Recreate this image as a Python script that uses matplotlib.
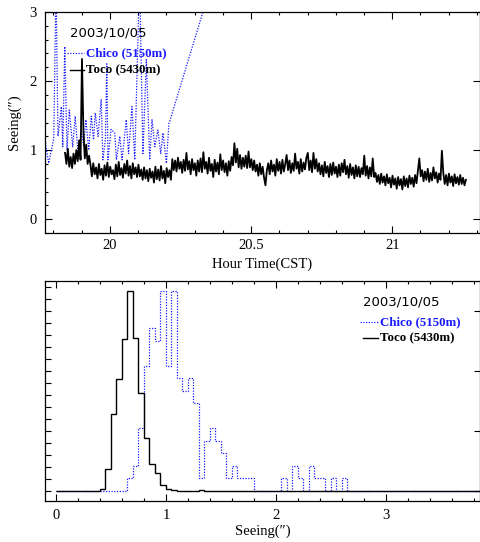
import matplotlib.pyplot as plt
import numpy as np
from matplotlib.ticker import MultipleLocator

plt.rcParams['font.family'] = ['Liberation Serif', 'DejaVu Serif']

# Toco (5430m) seeing, regular sampling from 19.841 to 21.261 h
toco_start, toco_end = 19.841, 21.261
toco_seeing = [
    0.96, 0.80, 1.02, 0.76, 0.90, 0.74,
    0.95, 0.80, 1.00, 0.84, 1.14, 0.86,
    2.32,
    1.29, 0.88, 1.08, 0.80, 0.92,
    0.79, 0.62, 0.81, 0.65, 0.75, 0.59, 0.80, 0.64, 0.73, 0.57,
    0.78, 0.63, 0.82, 0.61, 0.76, 0.65, 0.71, 0.58, 0.79, 0.62,
    0.83, 0.64, 0.74, 0.60, 0.80, 0.66, 0.85, 0.63, 0.77, 0.59,
    0.81, 0.65, 0.75, 0.61, 0.79, 0.62, 0.72, 0.57,
    0.75, 0.59, 0.71, 0.55, 0.73, 0.60, 0.69, 0.53, 0.76, 0.58,
    0.72, 0.56, 0.77, 0.59, 0.70, 0.52, 0.74, 0.61, 0.71, 0.57,
    0.87, 0.71, 0.85, 0.69, 0.89, 0.73, 0.83, 0.67, 0.86, 0.70,
    0.96, 0.72, 0.84, 0.65, 0.87, 0.71, 0.81, 0.63, 0.85, 0.69,
    0.88, 0.68, 0.97, 0.73, 0.83, 0.66, 0.89, 0.70, 0.80, 0.61,
    0.86, 0.69, 0.82, 0.65, 0.94, 0.71, 0.85, 0.68, 0.81, 0.63,
    0.84, 0.70,
    0.90, 0.78, 1.10,
    0.82, 1.02, 0.75, 0.93, 0.73, 0.89, 0.76, 0.92, 0.74, 0.98,
    0.75, 0.87, 0.71, 0.85, 0.69,
    0.79, 0.63, 0.81, 0.65, 0.76, 0.60, 0.49, 0.71,
    0.81, 0.65, 0.85, 0.69, 0.79, 0.63, 0.87, 0.70, 0.83, 0.66,
    0.86, 0.69, 0.80, 0.93, 0.71, 0.85, 0.67, 0.81, 0.70, 0.95,
    0.73, 0.83, 0.66, 0.87, 0.69, 0.82, 0.72, 0.89, 0.96, 0.71,
    0.85, 0.68, 0.96, 0.73, 0.87, 0.69,
    0.81, 0.65, 0.78, 0.62, 0.83, 0.67, 0.77, 0.61, 0.80, 0.64,
    0.82, 0.66, 0.76, 0.61, 0.79, 0.63, 0.81, 0.68, 0.86, 0.65,
    0.77, 0.60, 0.80, 0.64, 0.75, 0.59, 0.78, 0.62, 0.76, 0.61,
    0.74, 0.65, 0.92, 0.63, 0.77, 0.59, 0.75, 0.62, 0.88, 0.61,
    0.67, 0.54, 0.64, 0.51, 0.66, 0.53, 0.62, 0.49, 0.65, 0.52,
    0.60, 0.46, 0.63, 0.50, 0.59, 0.44, 0.61, 0.49, 0.58, 0.43,
    0.62, 0.48, 0.59, 0.46, 0.63, 0.51, 0.60, 0.47, 0.64, 0.52,
    0.70, 0.88, 0.62,
    0.71, 0.55, 0.69, 0.57, 0.73, 0.54, 0.67, 0.56, 0.75, 0.59,
    0.68, 0.53, 0.66, 0.57,
    0.99,
    0.67, 0.51, 0.64, 0.49, 0.66, 0.53, 0.62, 0.48, 0.65, 0.52,
    0.61, 0.50, 0.64, 0.51, 0.60, 0.49, 0.57,
]

# Chico (5150m) seeing
chico_time = [19.770, 19.783, 19.801, 19.809, 19.816, 19.828, 19.833, 19.840,
              19.848, 19.856, 19.868, 19.877, 19.887, 19.899, 19.907, 19.915,
              19.925, 19.934, 19.942, 19.948, 19.958, 19.969, 19.975, 19.984,
              19.989, 19.993, 20.004, 20.017, 20.023, 20.035, 20.043, 20.058,
              20.066, 20.078, 20.088, 20.105, 20.117, 20.129, 20.141, 20.149,
              20.159, 20.170, 20.180, 20.188, 20.200, 20.209, 20.212, 20.400]
chico_seeing = [1.15, 0.81, 1.17, 3.40, 1.20, 1.63, 1.05, 2.50,
                1.00, 1.58, 1.05, 1.49, 0.95, 1.29, 1.05, 1.44,
                1.00, 1.49, 1.15, 1.54, 1.20, 1.73, 0.86, 1.15,
                2.25, 0.86, 1.30, 1.25, 0.86, 1.20, 0.86, 1.44,
                0.95, 1.63, 0.86, 3.50, 0.95, 2.31, 0.86, 1.44,
                1.05, 1.29, 0.95, 1.25, 0.81, 1.39, 1.42, 3.95]

# histograms, bin width 0.05"
bin_width = 0.05
toco_hist_start = 0.40
toco_hist = [0.008, 0.111, 0.383, 0.558, 0.760, 1.000, 0.765, 0.491, 0.266,
             0.136, 0.088, 0.028, 0.008, 0.004, 0.002, 0.001, 0.001, 0.001,
             0.003, 0.001]
chico_hist_start = 0.65
chico_counts = [1, 2, 5, 10, 13, 12, 16, 10, 16, 9, 8, 9, 7, 1, 4, 5, 4, 3, 1,
                2, 1, 1, 1, 0, 0, 0, 0, 0, 1, 0, 2, 1, 0, 2, 1, 1, 0, 1, 0, 1]

W, H = 481, 542
fig = plt.figure(figsize=(W / 100, H / 100), dpi=100)
ax1 = fig.add_axes([45 / W, 1 - 233 / H, 435 / W, 221 / H])
ax2 = fig.add_axes([45 / W, 1 - 501 / H, 435 / W, 220 / H])

blue = '#1a1aff'
dots = (0, (1, 1.2))

# ---- time series ----
toco_time = np.linspace(toco_start, toco_end, len(toco_seeing))
ax1.plot(chico_time, chico_seeing, color=blue, lw=0.9, ls=dots)
ax1.plot(toco_time, toco_seeing, color='black', lw=1.3)
ax1.set_xlim(19.770, 21.311)
ax1.set_ylim(-0.2, 3.0)
ax1.xaxis.set_major_locator(MultipleLocator(0.5))
ax1.xaxis.set_minor_locator(MultipleLocator(0.1))
ax1.yaxis.set_major_locator(MultipleLocator(1))
ax1.yaxis.set_minor_locator(MultipleLocator(0.2))
ax1.xaxis.set_major_formatter(plt.FuncFormatter(lambda v, p: f'{v:g}'))
ax1.tick_params(which='major', direction='in', top=True, right=True,
                length=5, width=0.8, labelsize=10.5, pad=4)
ax1.tick_params(which='minor', direction='in', top=True, right=False,
                length=2.5, width=0.8)
ax1.tick_params(axis='y', which='major', pad=6)
ax1.set_xlabel('Hour Time(CST)', fontsize=10.5, labelpad=4)
ax1.set_ylabel('Seeing(″)', fontsize=10.5, labelpad=6)

# ---- histograms ----
edges = np.round(np.arange(0, 4.0 + bin_width / 2, bin_width), 3)
toco_full = np.zeros(len(edges) - 1)
i0 = int(round(toco_hist_start / bin_width))
toco_full[i0:i0 + len(toco_hist)] = toco_hist
chico_full = np.zeros(len(edges) - 1)
j0 = int(round(chico_hist_start / bin_width))
chico_full[j0:j0 + len(chico_counts)] = np.array(chico_counts) / max(chico_counts)

ax2.stairs(chico_full, edges, color=blue, lw=0.9, ls=dots)
ax2.stairs(toco_full, edges, color='black', lw=1.0)
ax2.set_xlim(-0.1, 3.855)
ax2.set_ylim(-0.05, 1.048)
ax2.xaxis.set_major_locator(MultipleLocator(1))
ax2.xaxis.set_minor_locator(MultipleLocator(0.2))
ax2.yaxis.set_major_locator(MultipleLocator(0.3))
ax2.yaxis.set_minor_locator(MultipleLocator(0.06))
ax2.tick_params(which='major', direction='in', top=True, right=True,
                length=5, width=0.8, labelsize=10.5, pad=6, labelleft=False)
ax2.tick_params(axis='x', which='minor', direction='in', top=True,
                length=2.5, width=0.8)
ax2.tick_params(axis='y', which='major', length=4)
ax2.tick_params(axis='y', which='minor', direction='in', right=False,
                length=4, width=0.8)
ax2.set_xlabel('Seeing(″)', fontsize=10.5, labelpad=1.5)

for ax in (ax1, ax2):
    for s in ax.spines.values():
        s.set_linewidth(0.9)


def fx(x):
    return x / W


def fy(y):
    return 1 - y / H


def legend(x_line, x_text, y_date, y_chico, y_toco):
    fig.text(fx(x_line + 3), fy(y_date), '2003/10/05', family='DejaVu Sans',
             fontsize=9.5, va='center', ha='left')
    fig.add_artist(plt.Line2D([fx(x_line), fx(x_text - 2)], [fy(y_chico)] * 2,
                              color=blue, lw=0.9, ls=dots))
    fig.text(fx(x_text), fy(y_chico), 'Chico (5150m)', color=blue,
             fontweight='bold', fontsize=9.3, va='center', ha='left')
    fig.add_artist(plt.Line2D([fx(x_line + 3), fx(x_text - 2)], [fy(y_toco)] * 2,
                              color='black', lw=1.0))
    fig.text(fx(x_text), fy(y_toco), 'Toco (5430m)', color='black',
             fontweight='bold', fontsize=9.3, va='center', ha='left')


legend(67, 86, 33, 53, 70)
legend(360, 380, 302, 322, 338)

fig.savefig('out.png', dpi=100)
